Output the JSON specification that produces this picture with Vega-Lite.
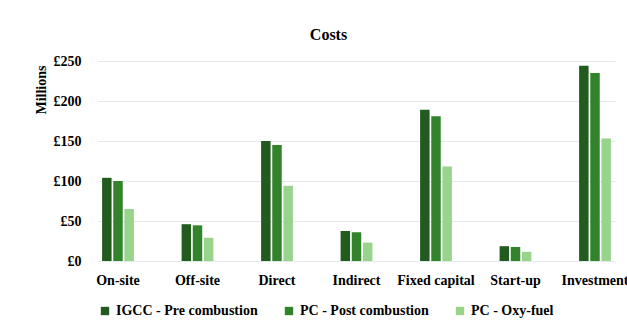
{
  "$schema": "https://vega.github.io/schema/vega-lite/v6.json",
  "autosize": "none",
  "width": 517,
  "height": 200,
  "padding": {"left": 98, "top": 61, "right": 12, "bottom": 62},
  "background": "white",
  "title": {"text": "Costs", "font": "Liberation Serif", "fontSize": 16, "fontWeight": "bold", "color": "#000000", "anchor": "middle", "dx": -28, "offset": 11},
  "data": {"values": [
    {"category": "On-site", "tech": "IGCC - Pre combustion", "value": 104},
    {"category": "On-site", "tech": "PC - Post combustion", "value": 100},
    {"category": "On-site", "tech": "PC - Oxy-fuel", "value": 65},
    {"category": "Off-site", "tech": "IGCC - Pre combustion", "value": 46},
    {"category": "Off-site", "tech": "PC - Post combustion", "value": 44.6},
    {"category": "Off-site", "tech": "PC - Oxy-fuel", "value": 29},
    {"category": "Direct", "tech": "IGCC - Pre combustion", "value": 150},
    {"category": "Direct", "tech": "PC - Post combustion", "value": 145},
    {"category": "Direct", "tech": "PC - Oxy-fuel", "value": 94},
    {"category": "Indirect", "tech": "IGCC - Pre combustion", "value": 37.5},
    {"category": "Indirect", "tech": "PC - Post combustion", "value": 36},
    {"category": "Indirect", "tech": "PC - Oxy-fuel", "value": 23},
    {"category": "Fixed capital", "tech": "IGCC - Pre combustion", "value": 189},
    {"category": "Fixed capital", "tech": "PC - Post combustion", "value": 181},
    {"category": "Fixed capital", "tech": "PC - Oxy-fuel", "value": 118},
    {"category": "Start-up", "tech": "IGCC - Pre combustion", "value": 18.5},
    {"category": "Start-up", "tech": "PC - Post combustion", "value": 17.5},
    {"category": "Start-up", "tech": "PC - Oxy-fuel", "value": 11.5},
    {"category": "Investment", "tech": "IGCC - Pre combustion", "value": 244},
    {"category": "Investment", "tech": "PC - Post combustion", "value": 235},
    {"category": "Investment", "tech": "PC - Oxy-fuel", "value": 153}
  ]},
  "mark": {"type": "bar"},
  "encoding": {
    "x": {
      "field": "category", "type": "nominal", "sort": null,
      "scale": {"paddingInner": 0.6, "paddingOuter": 0.0515},
      "axis": {"title": null, "labelAngle": 0, "domain": false, "ticks": false, "labelFont": "Liberation Serif", "labelFontSize": 14, "labelFontWeight": "bold", "labelColor": "#000000", "labelPadding": 12, "labelOverlap": false}
    },
    "xOffset": {"field": "tech", "type": "nominal", "sort": null, "scale": {"paddingInner": 0.15}},
    "y": {
      "field": "value", "type": "quantitative",
      "scale": {"domain": [0, 250]},
      "axis": {"title": "Millions", "titleAnchor": "end", "titleY": 4, "values": [0, 50, 100, 150, 200, 250], "labelExpr": "'£' + datum.value", "domain": false, "ticks": false, "gridColor": "#e3e8ee", "gridWidth": 1, "labelFont": "Liberation Serif", "labelFontSize": 14, "labelFontWeight": "bold", "labelColor": "#000000", "labelPadding": 17, "titleFont": "Liberation Serif", "titleFontSize": 14, "titleFontWeight": "bold", "titleColor": "#000000", "titlePadding": 5}
    },
    "color": {
      "field": "tech", "type": "nominal", "sort": null,
      "scale": {"domain": ["IGCC - Pre combustion", "PC - Post combustion", "PC - Oxy-fuel"], "range": ["#215b1d", "#32832b", "#98d48c"]},
      "legend": {"title": null, "orient": "bottom", "direction": "horizontal", "symbolType": "square", "symbolSize": 70, "symbolStrokeWidth": 0, "labelFont": "Liberation Serif", "labelFontSize": 14, "labelFontWeight": "bold", "labelColor": "#000000", "columnPadding": 24, "offset": 17, "labelOffset": 4}
    }
  },
  "config": {"view": {"stroke": null}}
}
